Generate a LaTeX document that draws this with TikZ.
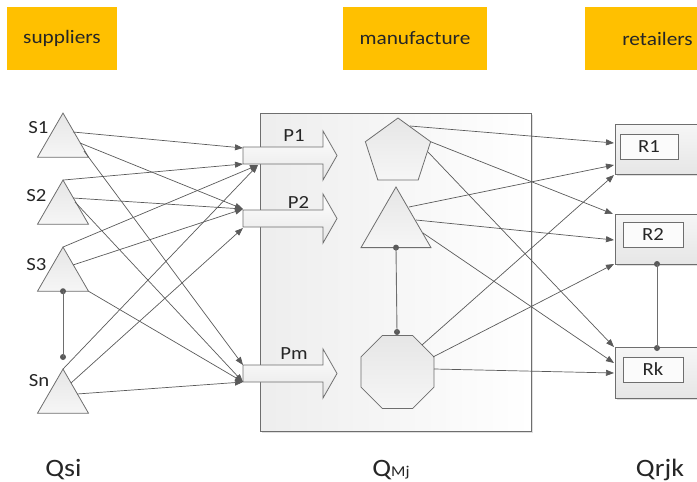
\documentclass[tikz,border=0pt]{standalone}
\usepackage{fontspec}
\setmainfont{Carlito}[FakeStretch=1.12]
\usetikzlibrary{arrows.meta,shapes.geometric,shadows}

\definecolor{gold}{HTML}{FFC000}
\definecolor{ink}{HTML}{262626}
\definecolor{edge}{HTML}{6E6E6E}
\definecolor{wire}{HTML}{5A5A5A}
\definecolor{paleA}{HTML}{E6E6E6}
\definecolor{paleB}{HTML}{F6F6F6}

\tikzset{
  lbl/.style={font=\fontsize{18.5}{18.5}\selectfont, text=ink, inner sep=0pt},
  qlbl/.style={font=\fontsize{25}{25}\selectfont, text=ink, inner sep=0pt, anchor=base},
  header/.style={fill=gold, minimum height=63pt, inner sep=0pt,
    font=\fontsize{19}{19}\selectfont, text=ink},
  solid/.style={draw=edge, line width=0.8pt, top color=paleA, bottom color=paleB,
    inner sep=0pt, outer sep=0pt},
  polyshape/.style={solid, regular polygon, regular polygon sides=#1},
  plant/.style={draw=edge, line width=0.9pt, left color=paleA!70, right color=white,
    drop shadow={shadow xshift=1.5pt, shadow yshift=-1.5pt, opacity=0.25}},
  store/.style={draw=edge, line width=0.8pt, top color=paleB, bottom color=paleA,
    minimum height=50pt, minimum width=100pt, inner sep=0pt,
    drop shadow={shadow xshift=1.5pt, shadow yshift=-1.5pt, opacity=0.25}},
  tag/.style={draw=edge, line width=0.8pt, fill=white!60!paleB, minimum height=25pt,
    inner sep=0pt, font=\fontsize{18.5}{18.5}\selectfont, text=ink},
  blockarrow/.style={draw=edge, line width=0.8pt, top color=white, bottom color=paleA},
  flow/.style={draw=wire, line width=0.7pt, -{Triangle[length=8pt,width=6pt]}},
  tie/.style={draw=edge, line width=0.9pt},
  dot/.style={circle, fill=wire, minimum size=6pt, inner sep=0pt},
  pics/product/.style={code={
    \path[blockarrow] (0,-8.5) -- (80,-8.5) -- (80,-24.5) -- (94,0)
      -- (80,24.5) -- (80,8.5) -- (0,8.5) -- cycle;}}
}

\begin{document}
\begin{tikzpicture}[x=1pt,y=-1pt]
\useasboundingbox (0,0) rectangle (697,482);
\clip (0,0) rectangle (697,482);

% stage headers
\node[header, minimum width=110pt] (hsup) at (62,38.5) {suppliers};
\node[header, minimum width=144pt] (hman) at (415,38.5) {manufacture};
\node[header, minimum width=145pt] (hret) at (657.5,38.5) {retailers};

% manufacturing plant
\node[plant, minimum width=271pt, minimum height=318pt] (plantbox) at (395.5,272) {};

% product flows into the plant
\pic at (243,155.5) {product};
\pic at (243,218.5) {product};
\pic at (243,373.5) {product};
\node[lbl] (lp1) at (294,135.5) {P1};
\node[lbl] (lp2) at (298.5,202) {P2};
\node[lbl] (lpm) at (294,353.5) {Pm};

% suppliers
\node[polyshape=3, minimum size=58.9pt] (s1) at (63,142.5) {};
\node[polyshape=3, minimum size=58.9pt] (s2) at (63,209.5) {};
\node[polyshape=3, minimum size=58.9pt] (s3) at (63,276.5) {};
\node[polyshape=3, minimum size=58.9pt] (sn) at (63,398.5) {};
\node[lbl] (ls1) at (38.5,127.5) {S1};
\node[lbl] (ls2) at (36.5,196) {S2};
\node[lbl] (ls3) at (36.5,265) {S3};
\node[lbl] (lsn) at (39,381) {Sn};

% plant units
\node[polyshape=5, minimum size=68.6pt] (pent) at (398,152.3) {};
\node[polyshape=3, minimum size=80.8pt] (tri) at (396,227.4) {};
\node[polyshape=8, minimum size=79pt] (oct) at (397.5,372) {};

% retailers
\node[store] (r1) at (665,149) {};
\node[store] (r2) at (665,239) {};
\node[store, minimum height=51pt] (rk) at (665,372.5) {};
\node[tag, minimum width=58pt] (t1) at (649,146.5) {R1};
\node[tag, minimum width=60pt] (t2) at (653,234.5) {R2};
\node[tag, minimum width=60pt] (tk) at (653,369.5) {Rk};

% tie lines
\node[dot] (s3dot) at (s3.south) {};
\node[dot] (sndot) at (63,357) {};
\draw[tie] (s3dot.center) -- (sndot.center);
\node[dot] (tridot) at (tri.south) {};
\node[dot] (octdot) at (397,332) {};
\draw[tie] (tridot.center) -- (octdot.center);
\node[dot] (r2dot) at (657,264) {};
\node[dot] (rkdot) at (657,348) {};
\draw[tie] (r2dot.center) -- (rkdot.center);

% attachment points on the supplier side
\coordinate (s1a) at (73,132);
\coordinate (s1b) at (80,143);
\coordinate (s1c) at (84,151);
\coordinate (s2b) at (73,198);
\coordinate (s2c) at (75,202);
\coordinate (s3b) at (73,265);
\coordinate (sna) at (71,383);
\coordinate (snb) at (77,394);
\coordinate (p1top) at (243,148);
\coordinate (p1bot) at (243,164);
\coordinate (p1under) at (258,165);
\coordinate (p2in) at (243,209);
\coordinate (p2bot) at (243,228);
\coordinate (pmtop) at (243,365);
\coordinate (pmbot) at (243,382);

% supplier deliveries
\draw[flow] (s1a) -- (p1top);
\draw[flow] (s1b) -- (p2in);
\draw[flow] (s1c) -- (pmtop);
\draw[flow] (s2.corner 1) -- (p1bot);
\draw[flow] (s2b) -- (p2in);
\draw[flow] (s2c) -- (pmbot);
\draw[flow] (s3.corner 1) -- (p1under);
\draw[flow] (s3b) -- (p2in);
\draw[flow] (s3.corner 3) -- (pmbot);
\draw[flow] (sn.corner 1) -- (p1under);
\draw[flow] (sna) -- (p2bot);
\draw[flow] (snb) -- (pmbot);

% attachment points on the retail side
\coordinate (pe1) at (410,126);
\coordinate (pe3) at (428,152);
\coordinate (tr1) at (409,207);
\coordinate (tr2) at (416,220);
\coordinate (tr3) at (423,233);
\coordinate (oc1) at (422,345);
\coordinate (oc2) at (433,357);
\coordinate (oc3) at (434,369);
\coordinate (r1a) at (614,143);
\coordinate (r1b) at (614,165);
\coordinate (r1c) at (614,175);
\coordinate (r2a) at (613,214);
\coordinate (r2b) at (614,240);
\coordinate (r2c) at (614,264);
\coordinate (rka) at (614,347);
\coordinate (rkb) at (614,363);
\coordinate (rkc) at (614,373);

% shipments to retailers
\draw[flow] (pe1) -- (r1a);
\draw[flow] (pent.corner 5) -- (r2a);
\draw[flow] (pe3) -- (rka);
\draw[flow] (tr1) -- (r1b);
\draw[flow] (tr2) -- (r2b);
\draw[flow] (tr3) -- (rkb);
\draw[flow] (oc1) -- (r1c);
\draw[flow] (oc2) -- (r2c);
\draw[flow] (oc3) -- (rkc);

% stock quantities
\node[qlbl] (qs) at (63.5,476) {Qsi};
\node[qlbl] (qm) at (391,476) {Q{\fontsize{15}{15}\selectfont Mj}};
\node[qlbl] (qr) at (660,476) {Qrjk};
\end{tikzpicture}
\end{document}
